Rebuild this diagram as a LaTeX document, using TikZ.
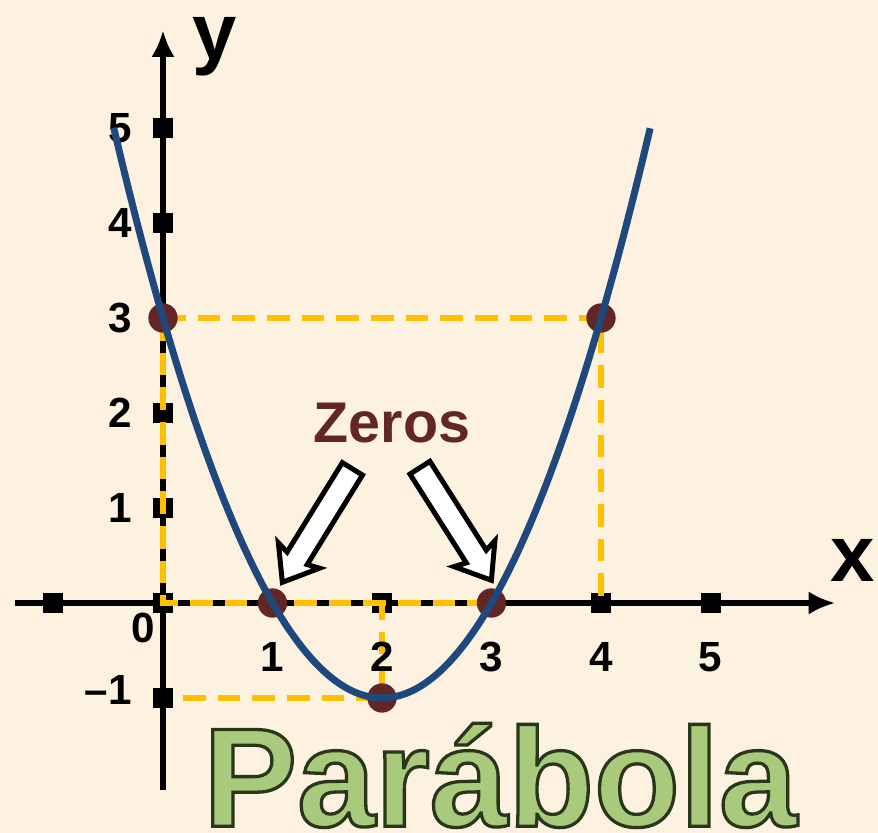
\documentclass[tikz,border=0pt]{standalone}
\usepackage{fontspec}
\setmainfont{Liberation Sans}
\usetikzlibrary{arrows.meta,shapes.arrows}
\definecolor{paper}{HTML}{FDF2E0}
\definecolor{curveblue}{HTML}{1F497D}
\definecolor{dashgold}{HTML}{FFC000}
\definecolor{dotred}{HTML}{622626}
\definecolor{greenfill}{HTML}{A9CA7C}
\tikzset{axisline/.style={line width=0.18cm,-{Latex[length=0.8cm,width=0.7cm]}},
  ticksq/.style={fill=black,minimum size=0.6cm,inner sep=0pt},
  dotpt/.style={circle,fill=dotred,minimum size=0.88cm,inner sep=0pt},
  guide/.style={dashgold,line width=0.16cm,dash pattern=on 0.68cm off 0.36cm},
  ticklbl/.style={font=\fontsize{36}{40}\selectfont\bfseries},
  axislbl/.style={font=\fontsize{68}{76}\selectfont\bfseries},
  zerolbl/.style={font=\fontsize{49}{56}\selectfont\bfseries,text=dotred},
  titlelbl/.style={font=\fontsize{120}{130}\selectfont\bfseries,text=greenfill},
  blockarrow/.style={single arrow,draw,fill=white,line width=0.15cm,
    minimum height=4.0cm,inner xsep=0pt,inner ysep=0.28cm,
    single arrow head extend=0.37cm,single arrow tip angle=75,
    single arrow head indent=0.1cm},
}
\begin{document}
\begin{tikzpicture}[x=3.285cm,y=2.85cm]
  \useasboundingbox[fill=paper] (-4.89cm,-6.9cm) rectangle (21.45cm,18.09cm);
  % axes
  \draw[axisline] (-1.35,0) -- (6.14,0);
  \draw[axisline] (0,-1.97) -- (0,6.03);
  \node[axislbl] (xlbl) at (6.30,0.45) {x};
  \node[axislbl] (ylbl) at (0.475,5.86) {y};
  \foreach \k in {-1,1,2,3,4,5} {
    \node[ticksq] (tx\k) at (\k,0) {};
    \node[ticksq] (ty\k) at (0,\k) {};
  }
  \node[ticksq] (t0) at (0,0) {};
  % points
  \coordinate (O) at (0,0);
  \coordinate (A) at (0,3);
  \coordinate (B) at (4,3);
  \coordinate (C) at (4,0);
  \coordinate (D) at (0,-1);
  \coordinate (E) at (2,-1);
  \coordinate (F) at (2,0);
  \coordinate (G) at (3,0);
  \draw[guide] (A) -- (B) -- (C);
  \draw[guide] (A) -- (O) -- (G);
  \draw[guide] ([xshift=0.6cm]D) -- (E) -- (F);
  % labels
  \foreach \k in {1,2,3,4,5} {
    \node[ticklbl] (lx\k) at (\k,-0.57) {\k};
    \node[ticklbl] (ly\k) at (-0.39,\k) {\k};
  }
  \node[ticklbl] (l0) at (-0.18,-0.26) {0};
  \node[ticklbl] (lm1) at (-0.5,-0.92) {–1};
  % dots and curve
  \node[dotpt] (pA) at (A) {};
  \node[dotpt] (pB) at (B) {};
  \node[dotpt] (z1) at (1,0) {};
  \node[dotpt] (z3) at (G) {};
  \node[dotpt] (vtx) at (E) {};
  \draw[curveblue,line width=0.21cm] plot[domain=-0.45:4.45,samples=80,smooth] (\x,{\x*\x-4*\x+3});
  % zeros
  \node[zerolbl] (zeros) at (2.09,1.89) {Zeros};
  \node[blockarrow,rotate=238.3] (arrL) at (1.447,0.884) {};
  \node[blockarrow,rotate=-57.6] (arrR) at (2.635,0.9) {};
  % title
  \node[titlelbl,anchor=base] (title) at (3.08,-2.35)
    {\special{pdf:literal direct 2 Tr 2.8 w 0.16 0.21 0.1 RG}Parábola\special{pdf:literal direct 0 Tr}};
\end{tikzpicture}
\end{document}
